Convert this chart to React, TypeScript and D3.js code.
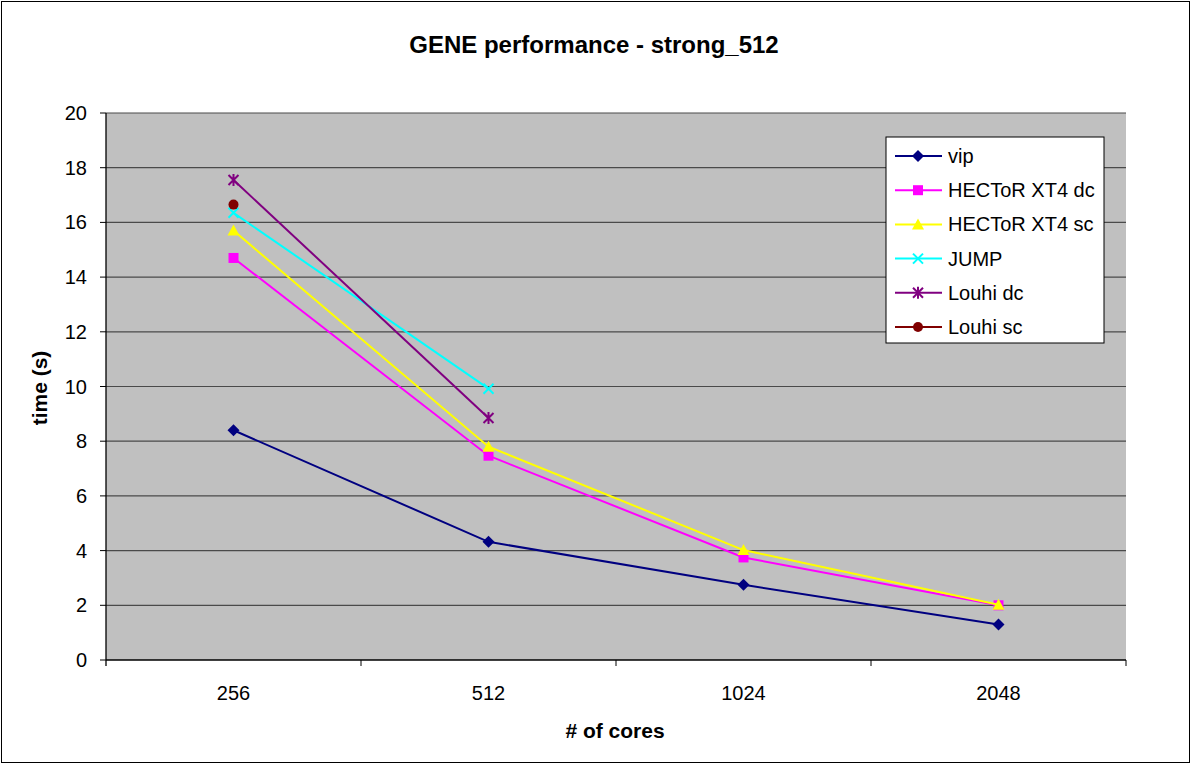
import React from "react";
import * as d3 from "d3";

const categories = ["256", "512", "1024", "2048"];
const yTicks = [0, 2, 4, 6, 8, 10, 12, 14, 16, 18, 20];

const vip = [8.4, 4.32, 2.75, 1.3];
const hectorDc = [14.7, 7.47, 3.75, 2.0];
const hectorSc = [15.7, 7.8, 4.02, 2.02];
const jump = [16.35, 9.92];
const louhiDc = [17.55, 8.85];
const louhiSc = [16.65];

type Marker = "diamond" | "square" | "triangle" | "x" | "star" | "circle";
interface Series { name: string; values: number[]; color: string; marker: Marker; }

const series: Series[] = [
  { name: "vip", values: vip, color: "#000080", marker: "diamond" },
  { name: "HECToR XT4 dc", values: hectorDc, color: "#ff00ff", marker: "square" },
  { name: "HECToR XT4 sc", values: hectorSc, color: "#ffff00", marker: "triangle" },
  { name: "JUMP", values: jump, color: "#00ffff", marker: "x" },
  { name: "Louhi dc", values: louhiDc, color: "#800080", marker: "star" },
  { name: "Louhi sc", values: louhiSc, color: "#800000", marker: "circle" },
];

const W = 1192, H = 765;
const plot = { left: 106, right: 1126, top: 113, bottom: 660 };
const font = "Liberation Sans, Arial, sans-serif";

function MarkerShape({ m, x, y, color }: { m: Marker; x: number; y: number; color: string }) {
  switch (m) {
    case "diamond":
      return <path d={`M${x},${y - 6}L${x + 6},${y}L${x},${y + 6}L${x - 6},${y}Z`} fill={color} />;
    case "square":
      return <rect x={x - 5} y={y - 5} width={10} height={10} fill={color} />;
    case "triangle":
      return <path d={`M${x},${y - 6}L${x + 6},${y + 5}L${x - 6},${y + 5}Z`} fill={color} />;
    case "x":
      return <path d={`M${x - 5},${y - 5}L${x + 5},${y + 5}M${x + 5},${y - 5}L${x - 5},${y + 5}`} stroke={color} strokeWidth={2} />;
    case "star":
      return <path d={`M${x - 5},${y - 5}L${x + 5},${y + 5}M${x + 5},${y - 5}L${x - 5},${y + 5}M${x},${y - 6}L${x},${y + 6}`} stroke={color} strokeWidth={2} />;
    case "circle":
      return <circle cx={x} cy={y} r={5} fill={color} />;
  }
}

export default function App() {
  const x = d3.scaleBand<string>().domain(categories).range([plot.left, plot.right]);
  const y = d3.scaleLinear().domain([0, 20]).range([plot.bottom, plot.top]);
  const cx = (i: number) => (x(categories[i]) as number) + x.bandwidth() / 2;
  const line = d3.line<number>().x((_, i) => cx(i)).y((v) => y(v));

  const legend = { x: 886, y: 137, w: 218, h: 206, rowStart: 156, rowStep: 34.2 };

  return (
    <svg width={W} height={H} style={{ position: "fixed", left: 0, top: 0 }} fontFamily={font}>
      <rect x={0} y={0} width={W} height={H} fill="#fff" />
      <rect x={1.5} y={1.5} width={W - 4} height={H - 4} fill="none" stroke="#000" strokeWidth={1} />
      <text x={594} y={53} textAnchor="middle" fontSize={24} fontWeight="bold">GENE performance - strong_512</text>

      <rect x={plot.left} y={plot.top} width={plot.right - plot.left} height={plot.bottom - plot.top} fill="#c0c0c0" />
      {yTicks.map((t) => (
        <g key={t}>
          {t > 0 && <line x1={plot.left} x2={plot.right} y1={y(t)} y2={y(t)} stroke="#4a4a4a" strokeWidth={1.2} />}
          <line x1={plot.left - 6} x2={plot.left} y1={y(t)} y2={y(t)} stroke="#000" />
          <text x={plot.left - 19} y={y(t) + 7} textAnchor="end" fontSize={20}>{t}</text>
        </g>
      ))}
      <line x1={plot.left} x2={plot.left} y1={plot.top} y2={plot.bottom + 6} stroke="#000" strokeWidth={1.3} />
      <line x1={plot.left} x2={plot.right} y1={plot.bottom} y2={plot.bottom} stroke="#000" strokeWidth={1.3} />
      {categories.map((c, i) => (
        <g key={c}>
          <line x1={(x(c) as number) + x.bandwidth()} x2={(x(c) as number) + x.bandwidth()} y1={plot.bottom} y2={plot.bottom + 6} stroke="#000" />
          <text x={cx(i)} y={plot.bottom + 40} textAnchor="middle" fontSize={20}>{c}</text>
        </g>
      ))}
      <text x={615} y={738} textAnchor="middle" fontSize={21} fontWeight="bold"># of cores</text>
      <text transform={`translate(47,388) rotate(-90)`} textAnchor="middle" fontSize={21} fontWeight="bold">time (s)</text>

      {series.map((s) => (
        <g key={s.name}>
          {s.values.length > 1 && <path d={line(s.values) || ""} fill="none" stroke={s.color} strokeWidth={2} />}
          {s.values.map((v, i) => (
            <MarkerShape key={i} m={s.marker} x={cx(i)} y={y(v)} color={s.color} />
          ))}
        </g>
      ))}

      <rect x={legend.x} y={legend.y} width={legend.w} height={legend.h} fill="#fff" stroke="#000" />
      {series.map((s, i) => {
        const ly = legend.rowStart + i * legend.rowStep;
        return (
          <g key={s.name}>
            <line x1={895} x2={942} y1={ly} y2={ly} stroke={s.color} strokeWidth={2} />
            <MarkerShape m={s.marker} x={918} y={ly} color={s.color} />
            <text x={948} y={ly + 7} fontSize={20}>{s.name}</text>
          </g>
        );
      })}
    </svg>
  );
}
